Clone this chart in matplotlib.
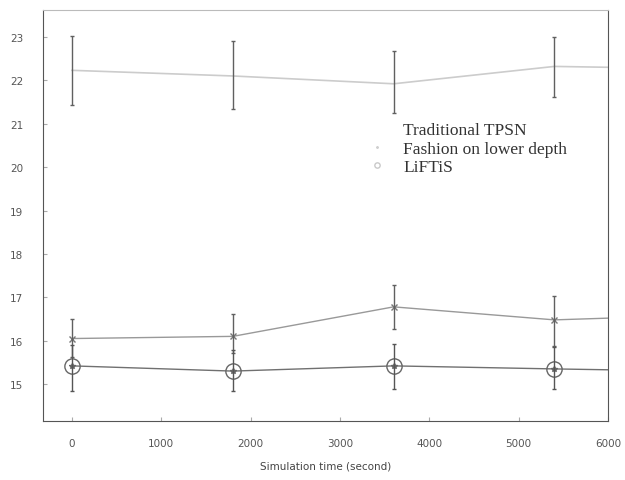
import numpy as np
import matplotlib.pyplot as plt

# simulation time (s) and measured values per scheme
time = [0, 1800, 3600, 5400, 6000]
tpsn = [22.23, 22.1, 21.92, 22.32, 22.3]
tpsn_hi = [23.03, 22.9, 22.67, 23.0]
tpsn_lo = [21.42, 21.35, 21.24, 21.62]

fashion = [16.05, 16.1, 16.78, 16.48, 16.52]
fashion_hi = [16.5, 16.62, 17.29, 17.03]
fashion_lo = [15.62, 15.72, 16.27, 15.88]

liftis = [15.42, 15.3, 15.42, 15.35, 15.33]
liftis_hi = [15.9, 15.78, 15.92, 15.86]
liftis_lo = [14.85, 14.85, 14.88, 14.88]

xticks = [0, 1000, 2000, 3000, 4000, 5000, 6000]
yticks = [15, 16, 17, 18, 19, 20, 21, 22, 23]

fig = plt.figure(figsize=(6.25, 4.81), dpi=100)
ax = fig.add_axes([43 / 625, 1 - 422 / 481, 565 / 625, 411 / 481])


def errs(vals, hi, lo):
    v = np.array(vals[:4])
    return np.vstack([v - np.array(lo), np.array(hi) - v])


t4 = time[:4]
ax.plot(time, tpsn, color='#cccccc', lw=1.2, label='Traditional TPSN')
ax.errorbar(t4, tpsn[:4], yerr=errs(tpsn, tpsn_hi, tpsn_lo), fmt='none',
            ecolor='#606060', elinewidth=1.0, capsize=1.5)

ax.plot(time, fashion, color='#999999', lw=1.0, marker='x', ms=4, mec='#777777',
        markevery=[0, 1, 2, 3], label='Fashion on lower depth')
ax.errorbar(t4, fashion[:4], yerr=errs(fashion, fashion_hi, fashion_lo), fmt='none',
            ecolor='#606060', elinewidth=1.0, capsize=1.5)

ax.plot(time, liftis, color='#707070', lw=1.0, marker='o', ms=11, mfc='none',
        mec='#666666', mew=1.0, markevery=[0, 1, 2, 3], label='LiFTiS')
ax.plot(t4, liftis[:4], ls='none', marker='*', ms=4, color='#666666')
ax.errorbar(t4, liftis[:4], yerr=errs(liftis, liftis_hi, liftis_lo), fmt='none',
            ecolor='#555555', elinewidth=1.0, capsize=1.5)

ax.set_xlim(-325, 6000)
ax.set_ylim(14.15, 23.62)
ax.set_xticks(xticks)
ax.set_yticks(yticks)
ax.tick_params(direction='in', length=3, labelsize=7.5, colors='#aaaaaa',
               labelcolor='#555555', pad=12)
ax.tick_params(axis='y', pad=14)
for s in ax.spines.values():
    s.set_color('#555555')
    s.set_linewidth(0.8)
ax.spines['top'].set_color('#bbbbbb')

ax.set_xlabel('Simulation time (second)', fontsize=7.5, color='#444444', labelpad=9)

leg = ax.legend(loc='upper left', bbox_to_anchor=(0.567, 0.748), frameon=False,
                borderpad=0, markerscale=0.35, handlelength=0.6, handletextpad=1.2,
                labelspacing=0.12, prop={'family': 'Liberation Serif', 'size': 12.5})
for h in leg.legend_handles:
    h.set_alpha(0.35)
    h.set_linewidth(0)
for t in leg.get_texts():
    t.set_color('#333333')

fig.savefig('out.png', dpi=100)
